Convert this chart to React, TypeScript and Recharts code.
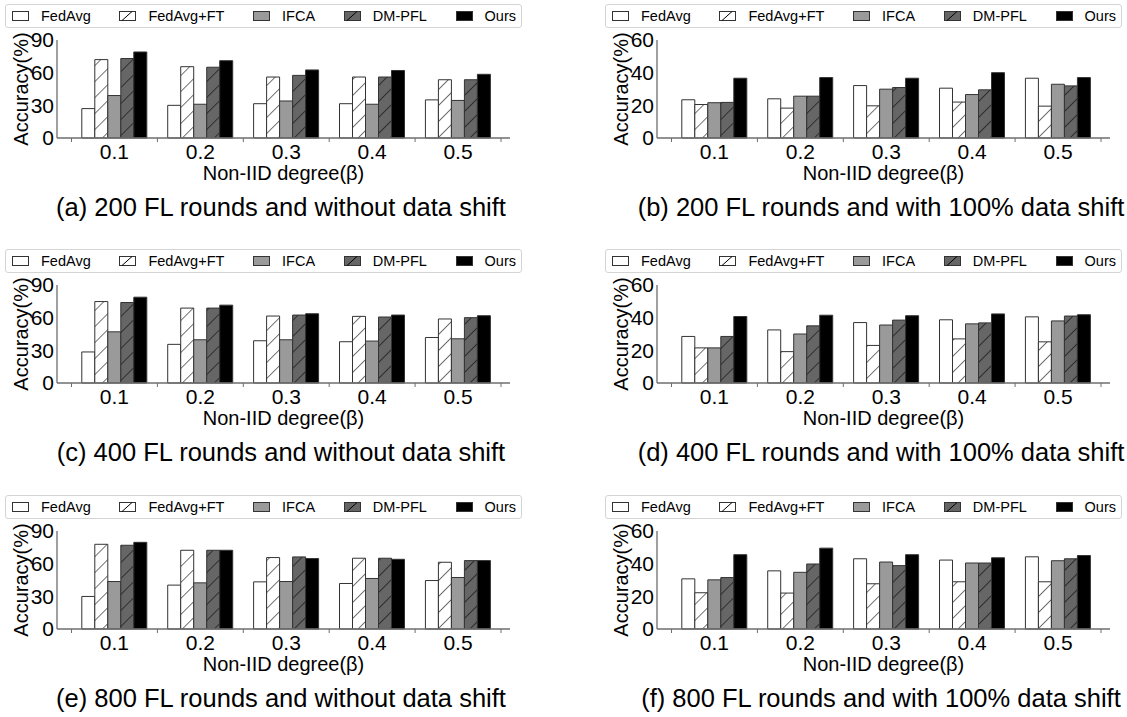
import React from 'react';
import { BarChart, Bar, XAxis, YAxis } from 'recharts';

// Categories and series names
const degrees = ['0.1', '0.2', '0.3', '0.4', '0.5'];
const methods = ['FedAvg', 'FedAvg+FT', 'IFCA', 'DM-PFL', 'Ours'];

// (a) 200 FL rounds, without data shift
const fedavgA = [27, 30, 31.5, 31.5, 35];
const fedftA = [72, 65.5, 56, 56, 53.5];
const ifcaA = [39, 31, 34, 31, 34.5];
const dmpflA = [73, 65, 57.5, 56, 53.5];
const oursA = [79, 71, 62.5, 62, 58.5];

// (b) 200 FL rounds, with 100% data shift
const fedavgB = [23.4, 24, 32.1, 30.5, 36.6];
const fedftB = [20.5, 18.3, 19.7, 22, 19.5];
const ifcaB = [21.6, 25.6, 29.9, 26.6, 32.9];
const dmpflB = [21.8, 25.6, 30.9, 29.5, 31.9];
const oursB = [36.6, 37, 36.6, 40, 37];

// (c) 400 FL rounds, without data shift
const fedavgC = [28.5, 35.5, 38.8, 37.9, 41.8];
const fedftC = [74.8, 68.8, 61.5, 61.2, 58.8];
const ifcaC = [47, 39.7, 39.7, 38.5, 40.6];
const dmpflC = [73.9, 68.8, 62.4, 60.6, 60];
const oursC = [78.8, 71.5, 63.6, 62.4, 61.8];

// (d) 400 FL rounds, with 100% data shift
const fedavgD = [28.5, 32.5, 37, 38.7, 40.5];
const fedftD = [21.5, 19.2, 23, 27, 25.2];
const ifcaD = [21.5, 30, 35.5, 36.2, 38];
const dmpflD = [28.5, 35, 38.5, 36.8, 41];
const oursD = [40.7, 41.5, 41.2, 42.3, 41.8];

// (e) 800 FL rounds, without data shift
const fedavgE = [29.9, 40.3, 43.3, 41.8, 44.5];
const fedftE = [77.8, 72.3, 65.6, 65, 61.3];
const ifcaE = [43.6, 42.4, 43.6, 46.4, 47.3];
const dmpflE = [76.9, 72.3, 66.2, 65, 62.8];
const oursE = [79.6, 72.3, 64.7, 64, 62.8];

// (f) 800 FL rounds, with 100% data shift
const fedavgF = [30.7, 35.6, 43, 42.2, 44.2];
const fedftF = [22.2, 22, 27.7, 28.9, 28.9];
const ifcaF = [30.1, 34.7, 41, 40.4, 41.8];
const dmpflF = [31.5, 39.8, 38.8, 40.4, 43];
const oursF = [45.5, 49.5, 45.5, 43.6, 45];

const ticksNoShift = [0, 30, 60, 90];
const ticksShift = [0, 20, 40, 60];

const FONT = '"Liberation Sans", Arial, Helvetica, sans-serif';
const FRAME = '#6e6e6e';
const EDGE = '#333';

const buildRows = (series: number[][]) =>
  degrees.map((d, i) => ({
    degree: d,
    FedAvg: series[0][i],
    'FedAvg+FT': series[1][i],
    IFCA: series[2][i],
    'DM-PFL': series[3][i],
    Ours: series[4][i],
  }));

// x tick label plus the small marks at the group boundaries
const DegreeTick = (props: any) => {
  const { x, y, payload, index } = props;
  const half = payload.offset ?? 43;
  const axisY = y - 8;
  return (
    <g>
      <line x1={x - half} x2={x - half} y1={axisY} y2={axisY + 4} stroke={FRAME} strokeWidth={1} />
      {index === degrees.length - 1 && (
        <line x1={x + half} x2={x + half} y1={axisY} y2={axisY + 4} stroke={FRAME} strokeWidth={1} />
      )}
      <text x={x} y={y - 1.5} dy="0.71em" textAnchor="middle" fontSize={21} fill="#000" fontFamily={FONT}>
        {payload.value}
      </text>
    </g>
  );
};

const Patch = ({ kind }: { kind: number }) => {
  const fills = ['#fff', '#fff', '#9a9a9a', '#666', '#000'];
  return (
    <svg width={17} height={10} style={{ display: 'block' }}>
      <rect x={0.5} y={0.5} width={16} height={9} fill={fills[kind]} stroke={EDGE} strokeWidth={1} />
      {(kind === 1 || kind === 3) && <line x1={3} y1={9.5} x2={13} y2={0.5} stroke="#000" strokeWidth={1} />}
    </svg>
  );
};

const LegendBox = () => (
  <div
    style={{
      position: 'absolute',
      left: 5,
      top: 4,
      width: 517,
      height: 24,
      boxSizing: 'border-box',
      border: '1px solid #d4d4d4',
      borderRadius: 3,
      background: '#fff',
      display: 'flex',
      justifyContent: 'space-between',
      alignItems: 'center',
      padding: '0 5px 0 6px',
      fontFamily: FONT,
      fontSize: 14.5,
      color: '#000',
    }}
  >
    {methods.map((m, i) => (
      <div key={m} style={{ display: 'flex', alignItems: 'center' }}>
        <Patch kind={i} />
        <span style={{ marginLeft: 12 }}>{m}</span>
      </div>
    ))}
  </div>
);

type PanelProps = {
  id: string;
  left: number;
  top: number;
  series: number[][];
  yMax: number;
  yTicks: number[];
  caption: string;
};

const Panel = ({ id, left, top, series, yMax, yTicks, caption }: PanelProps) => {
  const data = buildRows(series);
  const fills = ['#fff', `url(#ft-${id})`, '#9a9a9a', `url(#dm-${id})`, '#000'];
  return (
    <div style={{ position: 'absolute', left, top, width: 527, height: 226 }}>
      <div style={{ position: 'absolute', left: 0, top: 0 }}>
        <BarChart
          width={520}
          height={185}
          data={data}
          margin={{ top: 40, right: 10, left: 0, bottom: 0 }}
          barGap={0}
          barCategoryGap="12%"
        >
          <defs>
            <pattern id={`ft-${id}`} patternUnits="userSpaceOnUse" width={11.3} height={11.3} patternTransform="rotate(45)">
              <rect width={11.3} height={11.3} fill="#fff" />
              <line x1={0} y1={0} x2={0} y2={11.3} stroke="#000" strokeWidth={1.1} />
            </pattern>
            <pattern id={`dm-${id}`} patternUnits="userSpaceOnUse" width={11.3} height={11.3} patternTransform="rotate(45)">
              <rect width={11.3} height={11.3} fill="#666" />
              <line x1={0} y1={0} x2={0} y2={11.3} stroke="#000" strokeWidth={1.1} />
            </pattern>
          </defs>
          <XAxis
            dataKey="degree"
            height={47}
            interval={0}
            tickLine={false}
            axisLine={{ stroke: FRAME, strokeWidth: 1.3 }}
            padding={{ left: 14.5, right: 9 }}
            tick={<DegreeTick />}
            label={{
              value: 'Non-IID degree(β)',
              position: 'insideBottom',
              offset: 5,
              fontSize: 20,
              fill: '#000',
              fontFamily: FONT,
            }}
          />
          <XAxis
            xAxisId="top"
            dataKey="degree"
            orientation="top"
            height={0}
            tick={false}
            tickLine={false}
            axisLine={{ stroke: FRAME, strokeWidth: 1.3 }}
          />
          <YAxis
            width={57}
            domain={[0, yMax]}
            ticks={yTicks}
            interval={0}
            tickSize={0}
            tickMargin={3}
            tickLine={false}
            axisLine={{ stroke: FRAME, strokeWidth: 1.3 }}
            tick={{ fontSize: 21, fill: '#000', fontFamily: FONT }}
            label={{
              value: 'Accuracy(%)',
              angle: -90,
              position: 'insideLeft',
              offset: 21,
              fontSize: 20,
              fill: '#000',
              fontFamily: FONT,
              style: { textAnchor: 'middle' },
            }}
          />
          <YAxis
            yAxisId="right"
            orientation="right"
            width={0}
            domain={[0, yMax]}
            tick={false}
            tickLine={false}
            axisLine={{ stroke: FRAME, strokeWidth: 1.3 }}
          />
          {methods.map((m, i) => (
            <Bar
              key={m}
              dataKey={m}
              fill={fills[i]}
              stroke={EDGE}
              strokeWidth={1}
              isAnimationActive={false}
            />
          ))}
        </BarChart>
      </div>
      <LegendBox />
      <div
        style={{
          position: 'absolute',
          left: 0,
          width: 562,
          top: 194,
          textAlign: 'center',
          fontFamily: FONT,
          fontSize: 25.5,
          lineHeight: '26px',
          color: '#000',
          whiteSpace: 'nowrap',
        }}
      >
        {caption}
      </div>
    </div>
  );
};

export default function App() {
  return (
    <div style={{ position: 'absolute', left: 0, top: 0, width: 1127, height: 717, background: '#fff', overflow: 'hidden' }}>
      <Panel id="a" left={0} top={0} series={[fedavgA, fedftA, ifcaA, dmpflA, oursA]} yMax={90} yTicks={ticksNoShift} caption="(a) 200 FL rounds and without data shift" />
      <Panel id="b" left={600} top={0} series={[fedavgB, fedftB, ifcaB, dmpflB, oursB]} yMax={60} yTicks={ticksShift} caption="(b) 200 FL rounds and with 100% data shift" />
      <Panel id="c" left={0} top={245} series={[fedavgC, fedftC, ifcaC, dmpflC, oursC]} yMax={90} yTicks={ticksNoShift} caption="(c) 400 FL rounds and without data shift" />
      <Panel id="d" left={600} top={245} series={[fedavgD, fedftD, ifcaD, dmpflD, oursD]} yMax={60} yTicks={ticksShift} caption="(d) 400 FL rounds and with 100% data shift" />
      <Panel id="e" left={0} top={491} series={[fedavgE, fedftE, ifcaE, dmpflE, oursE]} yMax={90} yTicks={ticksNoShift} caption="(e) 800 FL rounds and without data shift" />
      <Panel id="f" left={600} top={491} series={[fedavgF, fedftF, ifcaF, dmpflF, oursF]} yMax={60} yTicks={ticksShift} caption="(f) 800 FL rounds and with 100% data shift" />
    </div>
  );
}
